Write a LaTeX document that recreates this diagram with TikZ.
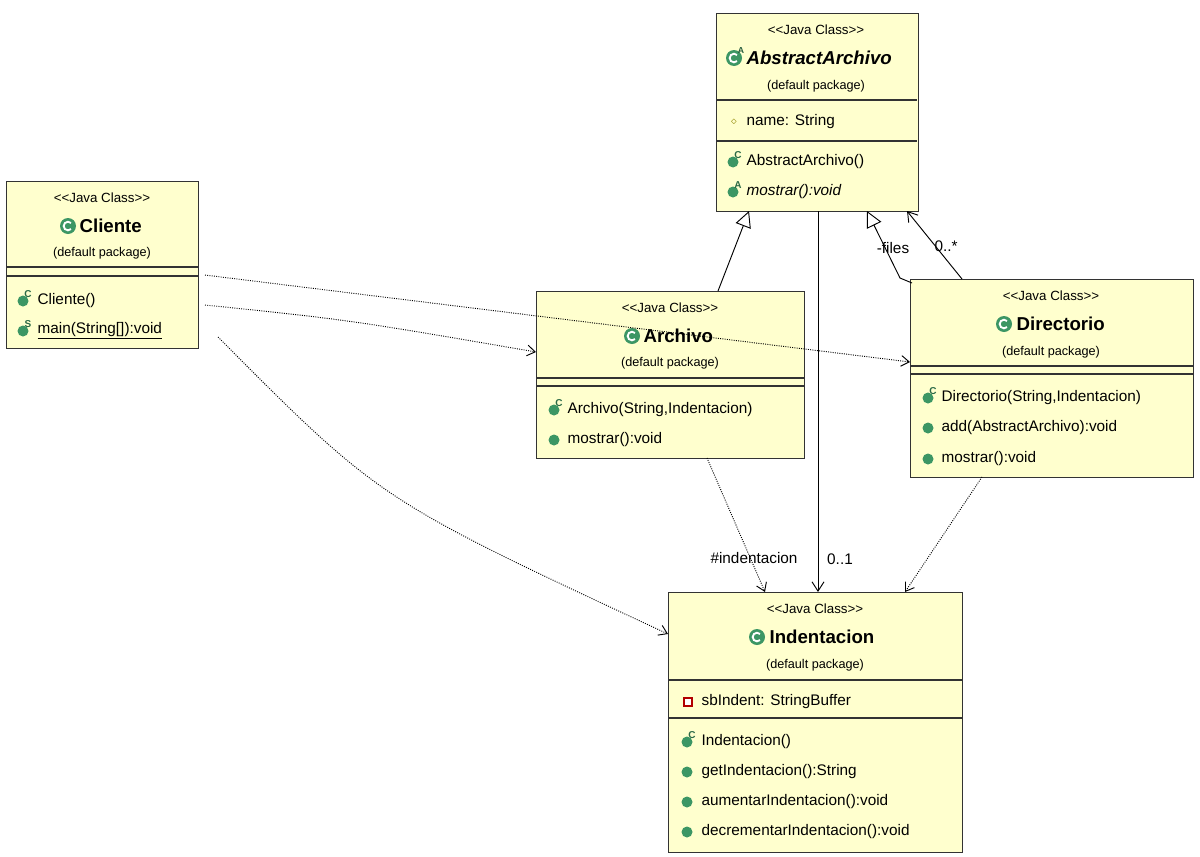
\documentclass[tikz,border=0pt]{standalone}
\usepackage{fontspec}
\setmainfont[Ligatures=NoCommon]{Liberation Sans}
\usetikzlibrary{arrows.meta}
\definecolor{boxy}{RGB}{255,255,206}
\definecolor{ic}{RGB}{60,150,100}
\newcommand\jc{{<}\kern0pt{<}Java Class{>}\kern0pt{>}}
\begin{document}
\begin{tikzpicture}[x=0.75pt,y=-0.75pt,
  box/.style={draw=black!80,fill=boxy,line width=0.8pt},
  sep/.style={draw=black!80,line width=0.8pt},
  st/.style={font=\fontsize{10}{11}\selectfont},
  nm/.style={anchor=west,inner sep=1pt,font=\fontsize{14}{15}\selectfont\bfseries},
  pk/.style={font=\fontsize{9.5}{10}\selectfont},
  mt/.style={anchor=west,inner sep=1pt,font=\fontsize{11.5}{12}\selectfont},
  dep/.style={densely dotted,line width=0.7pt,-{Straight Barb[length=6pt,width=8pt]}},
  gen/.style={line width=0.7pt,-{Triangle[open,length=12pt,width=12pt,fill=white]}},
  asc/.style={line width=0.7pt,-{Straight Barb[length=7pt,width=9pt]}},
  lb/.style={font=\fontsize{11.5}{12}\selectfont},
  pics/cls/.style={code={\fill[ic] (0,0) circle (8);\draw[white,line width=1.4pt] (3,-3) arc (-45:-315:4.3);}},
  pics/mi/.style={code={\fill[ic] (0,0) circle (5.5);\node[font=\fontsize{7.5}{7}\selectfont\bfseries,text=ic!70!black,inner sep=0] at (5,-7) {#1};}},
  pics/gd/.style={code={\fill[ic] (0,0) circle (5.5);}}
]
\useasboundingbox (0,0) rectangle (1200,857);
% AbstractArchivo
\node[box,minimum width=151.5pt,minimum height=148.5pt,anchor=north west] (aa) at (716,13) {};
\draw[sep] (716,100) -- (917,100) (716,141) -- (917,141);
\node[st] (aa1) at (816,30) {\jc};
\node[nm,font=\fontsize{14}{15}\selectfont\bfseries\itshape] (aa2) at (745,58) {AbstractArchivo};
\pic at (734,58) {cls}; \node[font=\fontsize{6.5}{6}\selectfont\bfseries,text=ic!60!black] (aaA) at (741,51) {A};
\node[pk] (aa3) at (816,86) {(default package)};
\node[font=\fontsize{8}{7}\selectfont,text=olive] (aad) at (734,122) {$\diamond$};
\node[mt] (aa4) at (745,122) {name: String};
\pic at (733,162) {mi=C}; \node[mt] (aa5) at (745,162) {AbstractArchivo()};
\pic at (733,192) {mi=A}; \node[mt,font=\fontsize{11.5}{12}\selectfont\itshape] (aa6) at (745,192) {mostrar():void};
% Cliente
\node[box,minimum width=144pt,minimum height=125pt,anchor=north west] (cl) at (6,181) {};
\draw[sep] (6,267) -- (198,267) (6,276) -- (198,276);
\node[st] (cl1) at (102,198) {\jc};
\pic at (68,226) {cls}; \node[nm] (cl2) at (78,226) {Cliente};
\node[pk] (cl3) at (102,253) {(default package)};
\pic at (23,301) {mi=C}; \node[mt] (cl4) at (36,301) {Cliente()};
\pic at (23,331) {mi=S}; \node[mt] (cl5) at (36,331) {\underline{main(String[]):void}};
% Archivo
\node[box,minimum width=201pt,minimum height=125pt,anchor=north west] (ar) at (536,291) {};
\draw[sep] (536,378) -- (804,378) (536,386) -- (804,386);
\node[st] (ar1) at (670,308) {\jc};
\pic at (632,336) {cls}; \node[nm] (ar2) at (642,336) {Archivo};
\node[pk] (ar3) at (670,363) {(default package)};
\pic at (554,410) {mi=C}; \node[mt] (ar4) at (566,410) {Archivo(String,Indentacion)};
\pic at (554,440) {gd}; \node[mt] (ar5) at (566,440) {mostrar():void};
% Directorio
\node[box,minimum width=212.25pt,minimum height=148.5pt,anchor=north west] (di) at (910,279) {};
\draw[sep] (910,366) -- (1193,366) (910,374) -- (1193,374);
\node[st] (di1) at (1051,296) {\jc};
\pic at (1004,324) {cls}; \node[nm] (di2) at (1015,324) {Directorio};
\node[pk] (di3) at (1051,352) {(default package)};
\pic at (928,398) {mi=C}; \node[mt] (di4) at (940,398) {Directorio(String,Indentacion)};
\pic at (928,428) {gd}; \node[mt] (di5) at (940,428) {add(AbstractArchivo):void};
\pic at (928,459) {gd}; \node[mt] (di6) at (940,459) {mostrar():void};
% Indentacion
\node[box,minimum width=220.5pt,minimum height=195pt,anchor=north west] (in) at (668,592) {};
\draw[sep] (668,680) -- (962,680) (668,718) -- (962,718);
\node[st] (in1) at (815,609) {\jc};
\pic at (757,637) {cls}; \node[nm] (in2) at (768,637) {Indentacion};
\node[pk] (in3) at (815,665) {(default package)};
\draw[draw=red!70!black,fill=white,line width=0.8pt] (684,698) rectangle (692,706);
\node[mt] (in4) at (700,702) {sbIndent: StringBuffer};
\pic at (687,742) {mi=C}; \node[mt] (in5) at (700,742) {Indentacion()};
\pic at (687,772) {gd}; \node[mt] (in6) at (700,772) {getIndentacion():String};
\pic at (687,802) {gd}; \node[mt] (in7) at (700,802) {aumentarIndentacion():void};
\pic at (687,832) {gd}; \node[mt] (in8) at (700,832) {decrementarIndentacion():void};
% coordinates
\coordinate (c1) at (205,275); \coordinate (c2) at (205,305); \coordinate (c3) at (218,337);
\coordinate (arT) at (718,291); \coordinate (aaB1) at (749,211);
\coordinate (diT1) at (912,283); \coordinate (diK) at (900,278); \coordinate (aaB2) at (867,211);
\coordinate (diT2) at (962,279); \coordinate (aaB3) at (907,211);
\coordinate (aaB4) at (818,211); \coordinate (inT) at (818,592);
\coordinate (arB) at (707,458); \coordinate (inT2) at (765,592);
\coordinate (diB) at (982,477); \coordinate (inT3) at (905,592);
\coordinate (diL) at (910,362); \coordinate (arL) at (536,352); \coordinate (inL) at (668,634);
% connectors
\draw[dep] (c1) -- (diL);
\draw[dep] (c2) .. controls (350,320) .. (arL);
\draw[dep] (c3) .. controls (380,500) .. (inL);
\draw[gen] (arT) -- (aaB1);
\draw[gen] (diT1) -- (diK) -- (aaB2);
\draw[asc] (diT2) -- (aaB3);
\draw[asc] (aaB4) -- (inT);
\draw[dep] (arB) -- (inT2);
\draw[dep] (diB) -- (inT3);
\node[lb] (l1) at (893,248) {-files};
\node[lb] (l2) at (946,246) {0..*};
\node[lb] (l3) at (840,559) {0..1};
\node[lb] (l4) at (754,558) {\#indentacion};
\end{tikzpicture}
\end{document}
